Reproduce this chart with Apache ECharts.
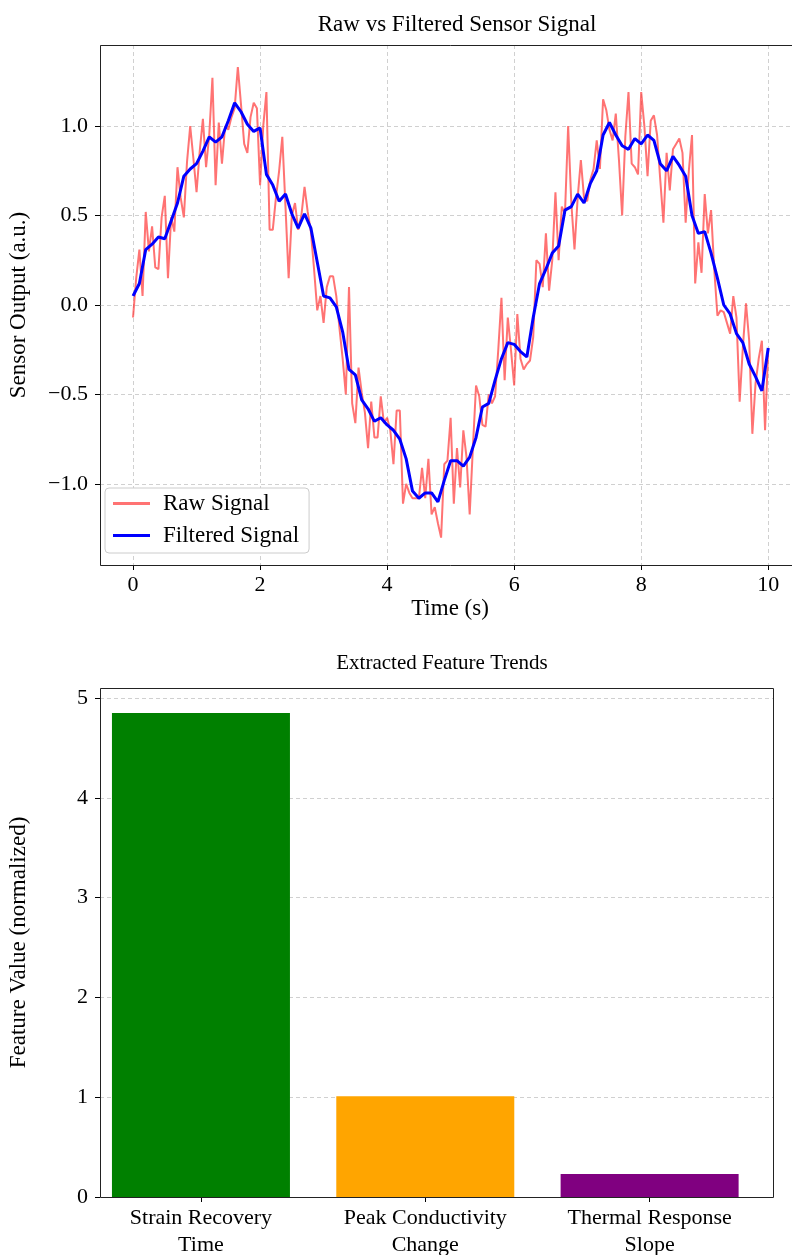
<!DOCTYPE html>
<html>
<head>
<meta charset="utf-8">
<script src="https://cdn.jsdelivr.net/npm/echarts@6/dist/echarts.min.js"></script>
<style>
html,body{margin:0;padding:0;background:#fff;overflow:hidden;}
#chart{width:812px;height:1255px;}
</style>
</head>
<body>
<div id="chart"></div>
<script>
// ---- data ----
const rawTimeStep = 0.05;       // s between raw samples
const filteredTimeStep = 0.1;   // s between filtered samples
const rawSignal = [
 -0.07, 0.15, 0.31, 0.05, 0.52, 0.30, 0.44, 0.21, 0.20, 0.49,
  0.61, 0.15, 0.49, 0.41, 0.77, 0.60, 0.49, 0.80, 1.00, 0.82,
  0.63, 0.86, 1.04, 0.77, 0.95, 1.27, 0.67, 1.02, 0.79, 1.00,
  0.98, 1.05, 1.10, 1.33, 1.12, 0.90, 0.85, 1.05, 1.13, 1.10,
  0.67, 1.00, 1.19, 0.42, 0.42, 0.60, 0.75, 0.94, 0.55, 0.15,
  0.50, 0.57, 0.42, 0.50, 0.66, 0.52, 0.41, 0.20, -0.03, 0.05,
 -0.10, 0.10, 0.16, 0.16, 0.05, -0.13, -0.30, -0.50, 0.10, -0.55,
 -0.66, -0.35, -0.49, -0.60, -0.80, -0.54, -0.74, -0.74, -0.51, -0.66,
 -0.63, -0.70, -0.89, -0.59, -0.59, -1.11, -1.00, -1.05, -1.08, -1.08,
 -1.08, -0.91, -1.08, -0.86, -1.17, -1.13, -1.22, -1.30, -0.89, -0.87,
 -0.63, -1.11, -0.80, -1.02, -0.70, -0.85, -1.17, -0.80, -0.45, -0.51,
 -0.67, -0.68, -0.50, -0.55, -0.51, -0.25, 0.04, -0.42, -0.07, -0.25,
 -0.45, -0.05, -0.30, -0.36, -0.33, -0.31, -0.18, 0.25, 0.23, 0.10,
  0.40, 0.08, 0.25, 0.63, 0.25, 0.55, 0.51, 1.00, 0.57, 0.31,
  0.60, 0.81, 0.60, 0.58, 0.70, 0.76, 0.92, 0.76, 1.15, 1.09,
  0.98, 0.92, 1.07, 0.81, 0.50, 0.94, 1.19, 0.79, 0.77, 0.73,
  1.19, 1.00, 0.72, 1.03, 1.06, 0.95, 0.70, 0.46, 0.85, 0.64,
  0.87, 0.90, 0.93, 0.85, 0.46, 0.75, 0.95, 0.12, 0.35, 0.18,
  0.62, 0.40, 0.53, 0.20, -0.06, -0.03, -0.04, -0.10, -0.16, 0.05,
 -0.07, -0.54, -0.24, 0.01, -0.20, -0.72, -0.44, -0.30, -0.20, -0.70,
 -0.24
];
const filteredSignal = [
  0.05, 0.12, 0.31, 0.34, 0.38, 0.37, 0.47, 0.57, 0.72, 0.76,
  0.79, 0.86, 0.94, 0.91, 0.94, 1.03, 1.13, 1.08, 1.01, 0.97,
  0.99, 0.73, 0.67, 0.58, 0.62, 0.51, 0.43, 0.51, 0.43, 0.24,
  0.05, 0.04, -0.01, -0.15, -0.36, -0.39, -0.53, -0.58, -0.65, -0.63,
 -0.67, -0.70, -0.75, -0.86, -1.04, -1.08, -1.05, -1.05, -1.10, -0.98,
 -0.87, -0.87, -0.90, -0.85, -0.74, -0.57, -0.55, -0.42, -0.30, -0.21,
 -0.22, -0.26, -0.29, -0.07, 0.12, 0.20, 0.29, 0.33, 0.53, 0.55,
  0.62, 0.57, 0.68, 0.75, 0.95, 1.02, 0.95, 0.89, 0.87, 0.93,
  0.90, 0.95, 0.92, 0.79, 0.75, 0.83, 0.78, 0.72, 0.50, 0.40,
  0.41, 0.29, 0.15, 0.00, -0.05, -0.16, -0.21, -0.33, -0.40, -0.48,
 -0.24
];
const featureNames = ['Strain Recovery\nTime', 'Peak Conductivity\nChange', 'Thermal Response\nSlope'];
const featureValues = [4.85, 1.01, 0.23];
const seriesNames = ['Raw Signal', 'Filtered Signal'];

// ---- chart ----
const FONT = '"Liberation Serif", "Times New Roman", serif';
const featureColors = ['#008000', '#ffa500', '#800080'];
const G1 = {left: 100, top: 45, width: 700, height: 520};
const G2 = {left: 100, top: 688, width: 673, height: 509};
const fmtNum = (v, d) => (v < 0 ? '\u2212' : '') + Math.abs(v).toFixed(d);

const chart = echarts.init(document.getElementById('chart'), null, {renderer: 'canvas'});

const axisLineOff = {show: false, onZero: false};
const tickStyle = {show: true, inside: false, length: 5, lineStyle: {color: '#000', width: 1}};
const labelStyle = {color: '#000', fontFamily: FONT, fontSize: 22, showMinLabel: false, showMaxLabel: false};
const nameStyle = {color: '#000', fontFamily: FONT, fontSize: 23};
const gridLine = {show: true, lineStyle: {color: '#d0d0d0', type: [4, 3], width: 1}};

const option = {
  animation: false,
  backgroundColor: '#fff',
  title: [
    {text: 'Raw vs Filtered Sensor Signal', left: 452, top: 8, textAlign: 'center',
     textStyle: {fontFamily: FONT, fontSize: 23, fontWeight: 'normal', color: '#000'}},
    {text: 'Extracted Feature Trends', left: 437, top: 648, textAlign: 'center',
     textStyle: {fontFamily: FONT, fontSize: 21, fontWeight: 'normal', color: '#000'}}
  ],
  legend: {
    left: 105, top: 488, orient: 'vertical',
    data: seriesNames.map(n => ({name: n, icon: 'rect'})),
    itemWidth: 37, itemHeight: 3, itemGap: 9,
    padding: [4, 10, 6, 8],
    backgroundColor: '#fff', borderColor: '#cccccc', borderWidth: 1, borderRadius: 4,
    textStyle: {fontFamily: FONT, fontSize: 23, color: '#000', padding: [0, 0, 0, 8]}
  },
  grid: [
    Object.assign({show: false, containLabel: false, outerBoundsMode: 'none'}, G1),
    Object.assign({show: false, containLabel: false, outerBoundsMode: 'none'}, G2)
  ],
  graphic: [
    {type: 'rect', z: 100, silent: true,
     shape: {x: G1.left + 0.5, y: G1.top + 0.5, width: G1.width, height: G1.height},
     style: {fill: null, stroke: '#222', lineWidth: 1}},
    {type: 'rect', z: 100, silent: true,
     shape: {x: G2.left + 0.5, y: G2.top + 0.5, width: G2.width, height: G2.height},
     style: {fill: null, stroke: '#222', lineWidth: 1}}
  ],
  xAxis: [
    {
      type: 'value', gridIndex: 0, min: -0.52, max: 10.5, position: 'bottom',
      name: 'Time (s)', nameLocation: 'middle', nameGap: 32, nameTextStyle: nameStyle,
      axisLine: axisLineOff, axisTick: tickStyle,
      axisLabel: Object.assign({}, labelStyle, {margin: 9}),
      splitLine: gridLine
    },
    {
      type: 'value', gridIndex: 1, min: -0.45, max: 2.55, position: 'bottom',
      axisLine: axisLineOff,
      axisTick: Object.assign({}, tickStyle, {customValues: [0, 1, 2]}),
      axisLabel: {color: '#000', fontFamily: FONT, fontSize: 22, lineHeight: 27, margin: 8,
        customValues: [0, 1, 2], formatter: v => featureNames[Math.round(v)]},
      splitLine: {show: false}
    }
  ],
  yAxis: [
    {
      type: 'value', gridIndex: 0, min: -1.453, max: 1.453, position: 'left',
      name: 'Sensor Output (a.u.)', nameLocation: 'middle', nameGap: 70, nameTextStyle: nameStyle,
      axisLine: axisLineOff, axisTick: tickStyle,
      axisLabel: Object.assign({}, labelStyle, {margin: 12, formatter: v => fmtNum(v, 1)}),
      splitLine: gridLine
    },
    {
      type: 'value', gridIndex: 1, min: 0, max: 5.1, position: 'left',
      name: 'Feature Value (normalized)', nameLocation: 'middle', nameGap: 70, nameTextStyle: nameStyle,
      axisLine: axisLineOff, axisTick: tickStyle,
      axisLabel: Object.assign({}, labelStyle, {margin: 12, showMinLabel: true}),
      splitLine: gridLine
    }
  ],
  series: [
    {
      name: seriesNames[0], type: 'line', xAxisIndex: 0, yAxisIndex: 0,
      symbol: 'none', z: 2,
      color: 'rgba(255,40,40,0.65)',
      lineStyle: {color: 'rgba(255,40,40,0.65)', width: 2},
      data: rawSignal.map((v, i) => [i * rawTimeStep, v])
    },
    {
      name: seriesNames[1], type: 'line', xAxisIndex: 0, yAxisIndex: 0,
      symbol: 'none', z: 3,
      color: '#0000ff',
      lineStyle: {color: '#0000ff', width: 3},
      data: filteredSignal.map((v, i) => [i * filteredTimeStep, v])
    },
    {
      name: 'Features', type: 'bar', xAxisIndex: 1, yAxisIndex: 1,
      barWidth: 178,
      data: featureValues.map((v, i) => ({value: [i, v], itemStyle: {color: featureColors[i]}}))
    }
  ]
};
chart.setOption(option);
</script>
</body>
</html>
